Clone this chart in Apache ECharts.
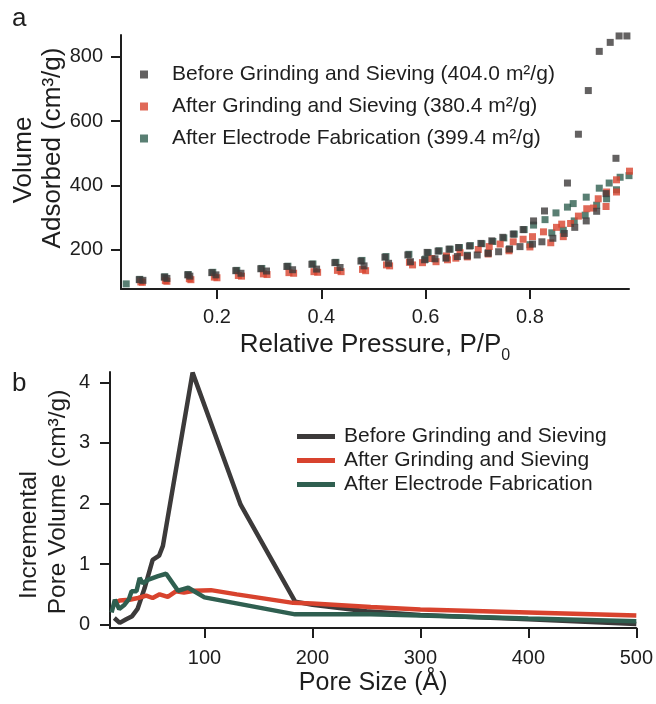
<!DOCTYPE html>
<html><head><meta charset="utf-8">
<script src="https://cdn.jsdelivr.net/npm/echarts@6/dist/echarts.min.js"></script>
<style>html,body{margin:0;padding:0;background:#fff}#c{width:656px;height:704px}</style>
</head><body><div id="c"></div>
<script>
// ---------- Panel a : N2 isotherms (scatter) ----------
const isoNames = ['Before Grinding and Sieving (404.0 m²/g)','After Grinding and Sieving (380.4 m²/g)','After Electrode Fabrication (399.4 m²/g)'];
const beforeA_x = [0.051,0.099,0.144,0.190,0.236,0.284,0.334,0.382,0.426,0.476,0.522,0.566,0.603,0.624,0.645,0.663,0.684,0.706,0.727,0.748,0.768,0.787,0.807,0.828,0.872,0.893,0.912,0.933,0.954,0.971,0.986];
const beforeA_y = [106,114,121,128,134,140,147,154,159,164,176,183,191,195,201,206,211,219,227,238,248,262,289,320,407,559,695,817,845,865,865];
const beforeB_x = [0.058,0.104,0.148,0.198,0.246,0.295,0.345,0.391,0.436,0.482,0.529,0.571,0.598,0.618,0.639,0.661,0.680,0.699,0.720,0.740,0.761,0.781,0.805,0.823,0.844,0.866,0.886,0.908,0.928,0.946,0.965];
const beforeB_y = [104,110,117,121,126,133,137,139,144,149,157,162,168,171,173,178,180,183,188,193,202,209,217,224,235,250,269,289,319,374,484];
const grindA_x = [0.054,0.101,0.147,0.195,0.241,0.289,0.338,0.386,0.431,0.479,0.525,0.569,0.612,0.640,0.666,0.701,0.722,0.743,0.768,0.787,0.805,0.826,0.851,0.861,0.893,0.909,0.931,0.947,0.966,0.991];
const grindA_y = [99,103,109,114,119,124,128,131,135,138,152,160,172,180,190,200,209,217,224,232,240,255,269,279,304,327,358,379,417,444];
const grindB_x = [0.057,0.104,0.150,0.200,0.247,0.296,0.347,0.393,0.438,0.485,0.531,0.575,0.594,0.620,0.642,0.658,0.680,0.720,0.760,0.800,0.840,0.864,0.878,0.922,0.946,0.966];
const grindB_y = [98,101,106,112,117,122,126,129,131,134,149,152,159,162,168,173,177,186,196,208,221,240,281,329,334,379];
const electA_x = [0.026,0.052,0.100,0.145,0.192,0.238,0.286,0.336,0.384,0.428,0.478,0.524,0.568,0.605,0.626,0.647,0.665,0.686,0.708,0.729,0.750,0.770,0.789,0.807,0.829,0.850,0.872,0.883,0.908,0.933,0.952,0.973,0.990];
const electA_y = [93,107,115,122,129,135,141,148,155,160,166,178,185,190,196,201,206,212,218,225,236,248,262,276,293,314,332,343,363,391,407,425,430];
const electB_x = [0.600,0.640,0.680,0.720,0.760,0.800,0.842,0.864,0.885,0.906,0.928,0.947,0.966];
const electB_y = [170,175,182,190,200,215,252,260,289,307,338,358,386];
const isoXTicks = [0.2,0.4,0.6,0.8];
const isoYTicks = [200,400,600,800];

// ---------- Panel b : pore size distribution (lines) ----------
const psdNames = ['Before Grinding and Sieving','After Grinding and Sieving','After Electrode Fabrication'];
const before_size = [16.5,21.5,27.5,33,38,44.5,52,58,61.5,89,133.5,184,200,250,300,400,500];
const before_vol  = [0.11,0.03,0.09,0.14,0.26,0.60,1.07,1.14,1.30,4.16,1.98,0.38,0.33,0.22,0.16,0.09,0.01];
const grind_size = [17,21.5,30.5,38.5,46,52,58.5,66,73.5,81,90.5,106,130,182,200,254,300,400,500];
const grind_vol  = [0.36,0.40,0.41,0.44,0.48,0.44,0.50,0.46,0.55,0.53,0.56,0.57,0.50,0.36,0.35,0.29,0.25,0.20,0.15];
const elect_size = [14,17,21,26,30,32.5,37,40,43,47.5,57,64.5,75.5,85,100,184,254,300,400,500];
const elect_vol  = [0.20,0.41,0.26,0.33,0.42,0.55,0.55,0.77,0.68,0.74,0.80,0.84,0.56,0.61,0.45,0.17,0.17,0.15,0.10,0.055];
const psdXTicks = [100,200,300,400,500];
const psdYTicks = [0,1,2,3,4];

const colors = ['#3c3a3a','#d8432e','#2f5f50'];
const FF = '"Liberation Sans", Arial, Helvetica, sans-serif';
const TXT = '#1e1e1e';

function zip(xs, ys){ return xs.map((x,i)=>[x, ys[i]]); }

const chart = echarts.init(document.getElementById('c'));

function axisCommon(ticks, margin){
  return {
    type:'value',
    axisLine:{show:true, onZero:false, lineStyle:{color:TXT, width:2}},
    axisTick:{show:true, length:10, lineStyle:{color:TXT, width:2}, customValues:ticks},
    axisLabel:{customValues:ticks, margin:margin, fontSize:20, color:TXT, fontFamily:FF},
    splitLine:{show:false}
  };
}
function vText(x, y, text, size){
  return {type:'text', x:x, y:y, rotation:Math.PI/2,
    style:{text:text, font:size+'px '+FF, fill:TXT, align:'center', verticalAlign:'middle', textAlign:'center', textVerticalAlign:'middle'}};
}

const option = {
  animation:false,
  backgroundColor:'#fff',
  grid:[
    {left:121, top:35, width:508, height:254},
    {left:110, top:372, width:531, height:256}
  ],
  xAxis:[
    Object.assign(axisCommon(isoXTicks,18), {gridIndex:0, min:0.016, max:0.99,
      name:'{t|Relative Pressure, P/P}{s|0}', nameLocation:'middle', nameGap:37,
      nameTextStyle:{color:TXT, fontFamily:FF, fontSize:26, rich:{t:{fontSize:26, lineHeight:38, fontFamily:FF, color:TXT}, s:{fontSize:16, lineHeight:16, verticalAlign:'bottom', fontFamily:FF, color:TXT}}}}),
    Object.assign(axisCommon(psdXTicks,20), {gridIndex:1, min:12.5, max:500,
      name:'Pore Size (Å)', nameLocation:'middle', nameGap:43,
      nameTextStyle:{color:TXT, fontFamily:FF, fontSize:25}})
  ],
  yAxis:[
    Object.assign(axisCommon(isoYTicks,18), {gridIndex:0, min:77, max:868}),
    Object.assign(axisCommon(psdYTicks,20), {gridIndex:1, min:-0.055, max:4.17})
  ],
  legend:[
    {data:isoNames, orient:'vertical', left:135, top:59, icon:'rect', itemWidth:8, itemHeight:8, itemGap:11,
      textStyle:{fontSize:21, color:TXT, fontFamily:FF, padding:[0,0,0,19]}},
    {data:psdNames, orient:'vertical', left:292, top:421, icon:'rect', itemWidth:38, itemHeight:5, itemGap:3,
      textStyle:{fontSize:21, color:TXT, fontFamily:FF, padding:[0,0,0,4]}}
  ],
  graphic:[
    {type:'text', x:12, y:6, style:{text:'a', font:'26px '+FF, fill:TXT}},
    {type:'text', x:12, y:371, style:{text:'b', font:'26px '+FF, fill:TXT}},
    vText(24, 160, 'Volume', 26),
    vText(53, 148, 'Adsorbed (cm³/g)', 26),
    vText(29, 535, 'Incremental', 24.5),
    vText(58, 502, 'Pore Volume (cm³/g)', 24.5)
  ],
  series:[
    {name:isoNames[2], type:'scatter', xAxisIndex:0, yAxisIndex:0, symbol:'rect', symbolSize:7, clip:false,
      itemStyle:{color:colors[2]}, data:zip(electA_x,electA_y).concat(zip(electB_x,electB_y))},
    {name:isoNames[1], type:'scatter', xAxisIndex:0, yAxisIndex:0, symbol:'rect', symbolSize:7, clip:false,
      itemStyle:{color:colors[1]}, data:zip(grindA_x,grindA_y).concat(zip(grindB_x,grindB_y))},
    {name:isoNames[0], type:'scatter', xAxisIndex:0, yAxisIndex:0, symbol:'rect', symbolSize:7, clip:false,
      itemStyle:{color:colors[0]}, data:zip(beforeA_x,beforeA_y).concat(zip(beforeB_x,beforeB_y))},
    {name:psdNames[0], type:'line', xAxisIndex:1, yAxisIndex:1, showSymbol:false, symbol:'none',
      lineStyle:{color:colors[0], width:4.5}, itemStyle:{color:colors[0]}, data:zip(before_size,before_vol)},
    {name:psdNames[1], type:'line', xAxisIndex:1, yAxisIndex:1, showSymbol:false, symbol:'none',
      lineStyle:{color:colors[1], width:4.5}, itemStyle:{color:colors[1]}, data:zip(grind_size,grind_vol)},
    {name:psdNames[2], type:'line', xAxisIndex:1, yAxisIndex:1, showSymbol:false, symbol:'none',
      lineStyle:{color:colors[2], width:4.5}, itemStyle:{color:colors[2]}, data:zip(elect_size,elect_vol)}
  ]
};
chart.setOption(option);
</script></body></html>
